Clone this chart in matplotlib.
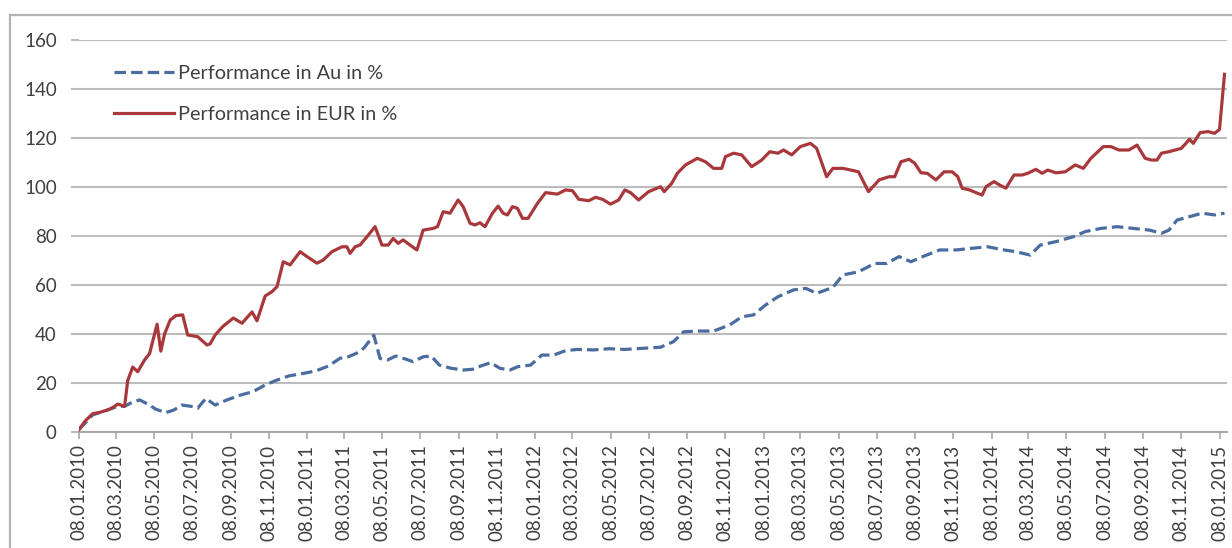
import pandas as pd
import matplotlib
matplotlib.use('Agg')
import matplotlib.pyplot as plt
import matplotlib.dates as mdates
from matplotlib.patches import Rectangle

# Kursentwicklung (Werte in %)
eur_dates = [
    '2010-01-08', '2010-01-18', '2010-01-30', '2010-02-10', '2010-02-23', '2010-03-03',
    '2010-03-11', '2010-03-22', '2010-03-27', '2010-04-04', '2010-04-12', '2010-04-23',
    '2010-05-01', '2010-05-13', '2010-05-19', '2010-05-25', '2010-06-03', '2010-06-12',
    '2010-06-23', '2010-07-01', '2010-07-17', '2010-08-01', '2010-08-06', '2010-08-14',
    '2010-08-26', '2010-09-12', '2010-09-26', '2010-10-12', '2010-10-20', '2010-11-02',
    '2010-11-13', '2010-11-21', '2010-12-01', '2010-12-12', '2010-12-28', '2011-01-08',
    '2011-01-24', '2011-02-03', '2011-02-17', '2011-03-05', '2011-03-13', '2011-03-18',
    '2011-03-26', '2011-04-03', '2011-04-14', '2011-04-27', '2011-05-08', '2011-05-18',
    '2011-05-26', '2011-06-03', '2011-06-11', '2011-06-22', '2011-07-03', '2011-07-13',
    '2011-07-29', '2011-08-05', '2011-08-14', '2011-08-25', '2011-09-07', '2011-09-15',
    '2011-09-26', '2011-10-04', '2011-10-12', '2011-10-20', '2011-11-01', '2011-11-10',
    '2011-11-18', '2011-11-25', '2011-12-03', '2011-12-11', '2011-12-19', '2011-12-28',
    '2012-01-12', '2012-01-25', '2012-02-13', '2012-02-26', '2012-03-08', '2012-03-18',
    '2012-04-03', '2012-04-14', '2012-04-25', '2012-05-08', '2012-05-21', '2012-05-31',
    '2012-06-09', '2012-06-22', '2012-07-08', '2012-07-27', '2012-08-02', '2012-08-14',
    '2012-08-23', '2012-09-05', '2012-09-24', '2012-10-07', '2012-10-20', '2012-11-02',
    '2012-11-08', '2012-11-21', '2012-12-04', '2012-12-20', '2013-01-05', '2013-01-18',
    '2013-01-31', '2013-02-09', '2013-02-22', '2013-03-08', '2013-03-24', '2013-04-03',
    '2013-04-19', '2013-04-29', '2013-05-15', '2013-05-28', '2013-06-09', '2013-06-25',
    '2013-07-12', '2013-07-28', '2013-08-06', '2013-08-16', '2013-08-29', '2013-09-07',
    '2013-09-17', '2013-09-27', '2013-10-11', '2013-10-24', '2013-11-06', '2013-11-15',
    '2013-11-22', '2013-12-04', '2013-12-14', '2013-12-24', '2013-12-30', '2014-01-12',
    '2014-01-21', '2014-01-31', '2014-02-13', '2014-02-26', '2014-03-07', '2014-03-20',
    '2014-03-30', '2014-04-08', '2014-04-21', '2014-05-06', '2014-05-22', '2014-06-04',
    '2014-06-16', '2014-07-06', '2014-07-18', '2014-07-31', '2014-08-16', '2014-08-29',
    '2014-09-11', '2014-09-21', '2014-09-30', '2014-10-07', '2014-10-19', '2014-11-08',
    '2014-11-21', '2014-11-27', '2014-12-08', '2014-12-21', '2014-12-31', '2015-01-08',
    '2015-01-16',
]
eur_values = [
    1.0, 4.5, 7.5, 8.0, 9.0, 10.0,
    11.4, 10.5, 21.0, 26.5, 24.6, 29.4,
    32.0, 44.0, 33.0, 40.0, 45.7, 47.5,
    47.8, 39.6, 38.9, 35.5, 36.0, 39.6,
    43.0, 46.5, 44.4, 49.0, 45.4, 55.5,
    57.3, 59.3, 69.5, 68.2, 73.6, 71.6,
    68.9, 70.2, 73.6, 75.6, 75.6, 72.9,
    75.6, 76.3, 79.7, 83.8, 76.3, 76.3,
    79.0, 77.0, 78.4, 76.3, 74.3, 82.4,
    83.1, 83.8, 89.9, 89.3, 94.7, 92.0,
    85.2, 84.5, 85.4, 83.8, 89.3, 92.2,
    89.3, 88.6, 92.0, 91.3, 87.2, 87.2,
    93.3, 97.7, 97.1, 98.8, 98.5, 95.0,
    94.4, 95.8, 95.0, 93.0, 94.7, 98.8,
    97.7, 94.7, 98.1, 100.1, 98.1, 101.5,
    105.6, 109.0, 111.7, 110.3, 107.6, 107.6,
    112.4, 113.8, 113.1, 108.3, 111.0, 114.4,
    113.8, 115.1, 113.1, 116.5, 117.8, 115.8,
    104.2, 107.6, 107.6, 106.9, 106.2, 98.1,
    102.9, 104.2, 104.2, 110.3, 111.3, 109.7,
    105.8, 105.6, 102.9, 106.2, 106.2, 104.2,
    99.5, 98.8, 97.7, 96.7, 100.1, 102.2,
    100.8, 99.5, 104.9, 104.9, 105.6, 107.2,
    105.6, 106.9, 105.8, 106.2, 109.0, 107.6,
    111.7, 116.5, 116.5, 115.1, 115.1, 117.1,
    111.7, 111.0, 111.0, 113.8, 114.4, 115.8,
    119.5, 117.8, 122.2, 122.6, 121.9, 123.5,
    146.0,
]

au_dates = [
    '2010-01-08', '2010-01-30', '2010-02-23', '2010-03-11', '2010-03-22', '2010-03-31',
    '2010-04-15', '2010-04-28', '2010-05-11', '2010-05-27', '2010-06-09', '2010-06-22',
    '2010-07-11', '2010-07-17', '2010-07-30', '2010-08-14', '2010-09-02', '2010-09-24',
    '2010-10-14', '2010-11-02', '2010-11-21', '2010-12-10', '2011-01-04', '2011-01-23',
    '2011-02-11', '2011-03-02', '2011-03-15', '2011-03-28', '2011-04-09', '2011-04-25',
    '2011-05-05', '2011-05-17', '2011-05-30', '2011-06-11', '2011-06-27', '2011-07-13',
    '2011-07-26', '2011-08-08', '2011-08-27', '2011-09-15', '2011-09-30', '2011-10-13',
    '2011-10-29', '2011-11-13', '2011-11-29', '2011-12-12', '2012-01-01', '2012-01-19',
    '2012-02-07', '2012-02-26', '2012-03-16', '2012-04-11', '2012-05-06', '2012-05-31',
    '2012-06-25', '2012-07-27', '2012-08-17', '2012-09-02', '2012-09-24', '2012-10-20',
    '2012-11-15', '2012-12-04', '2012-12-23', '2013-01-11', '2013-01-31', '2013-02-25',
    '2013-03-17', '2013-04-03', '2013-04-29', '2013-05-15', '2013-06-09', '2013-07-05',
    '2013-07-24', '2013-08-13', '2013-09-01', '2013-09-20', '2013-10-17', '2013-11-12',
    '2013-12-08', '2014-01-02', '2014-01-28', '2014-02-16', '2014-03-11', '2014-03-27',
    '2014-04-21', '2014-05-19', '2014-06-07', '2014-07-02', '2014-07-28', '2014-08-23',
    '2014-09-18', '2014-10-07', '2014-10-19', '2014-11-01', '2014-11-21', '2014-12-11',
    '2014-12-31', '2015-01-16',
]
au_values = [
    1.0, 7.0, 9.0, 10.5, 10.5, 11.7,
    13.1, 11.4, 9.3, 7.9, 9.0, 11.0,
    10.3, 9.7, 13.7, 11.0, 13.1, 15.1,
    16.5, 19.2, 21.2, 22.9, 24.0, 25.0,
    26.9, 30.1, 30.7, 32.1, 34.2, 39.5,
    30.0, 29.4, 31.0, 30.1, 28.7, 30.7,
    31.0, 27.3, 26.0, 25.3, 25.6, 26.9,
    28.3, 26.0, 25.3, 26.7, 27.3, 31.4,
    31.4, 33.2, 33.7, 33.5, 34.0, 33.7,
    34.1, 34.6, 36.9, 40.9, 41.2, 41.2,
    43.7, 47.0, 47.8, 51.8, 55.2, 58.0,
    58.6, 56.6, 59.0, 64.1, 65.4, 68.8,
    68.8, 71.6, 69.5, 71.6, 74.3, 74.3,
    75.0, 75.6, 74.3, 73.6, 72.2, 76.3,
    77.7, 79.7, 81.8, 83.1, 83.8, 83.1,
    82.4, 81.1, 82.4, 86.5, 87.9, 89.3,
    88.6, 89.3,
]

series_labels = ['Performance in Au in %', 'Performance in EUR in %']
tick_start = '2010-01-08'
tick_end = '2015-01-08'
y_ticks = list(range(0, 161, 20))

FONT = ['Lato', 'DejaVu Sans']
TEXT_COLOR = '#404040'
GRID_COLOR = '#bcbcbc'


def main():
    plt.rcParams['font.family'] = FONT

    eur_x = pd.to_datetime(eur_dates)
    au_x = pd.to_datetime(au_dates)
    tick_dates = pd.date_range(tick_start, tick_end, freq=pd.DateOffset(months=2))

    fig = plt.figure(figsize=(12.32, 5.48), dpi=100)
    ax = fig.add_axes([79 / 1232, 1 - 432 / 548, (1227 - 79) / 1232, 392 / 548])

    # Rahmen des Diagrammbereichs (unten und rechts abgeschnitten)
    fig.patches.append(Rectangle((10 / 1232, -0.1), 1.2, 1.1 - 15 / 548,
                                 transform=fig.transFigure, fill=False,
                                 edgecolor='#b4b4b4', linewidth=1.6))

    au_line, = ax.plot(au_x, au_values, color='#4a6c9f', linewidth=2.3,
                       label=series_labels[0], zorder=3)
    au_line.set_dashes((3.6, 1.6))
    ax.plot(eur_x, eur_values, color='#a8383b', linewidth=2.3,
            label=series_labels[1], zorder=4)

    ax.set_ylim(0, 160)
    ax.set_yticks(y_ticks)
    ax.set_xlim(pd.Timestamp('2010-01-08'), pd.Timestamp('2015-01-20'))
    ax.set_xticks(tick_dates)
    ax.xaxis.set_major_formatter(mdates.DateFormatter('%d.%m.%Y'))

    ax.grid(axis='y', color=GRID_COLOR, linewidth=1.5)
    ax.set_axisbelow(True)
    for side in ['top', 'right', 'left']:
        ax.spines[side].set_visible(False)
    ax.spines['bottom'].set_color('#a8a8a8')
    ax.spines['bottom'].set_linewidth(1.5)

    ax.tick_params(axis='y', length=6, width=1.5, color=GRID_COLOR, pad=10,
                   labelsize=13.5, labelcolor=TEXT_COLOR)
    ax.tick_params(axis='x', length=5, width=1.2, color='#a8a8a8', pad=4,
                   labelsize=13.5, labelcolor=TEXT_COLOR, labelrotation=90)

    leg = ax.legend(loc='upper left', bbox_to_anchor=(0.0235, 0.956), frameon=False,
                    fontsize=14.3, handlelength=3.0, handletextpad=0.25,
                    labelspacing=1.2, borderaxespad=0)
    for txt in leg.get_texts():
        txt.set_color(TEXT_COLOR)

    fig.savefig('out.png', dpi=100)
    plt.close(fig)


if __name__ == "__main__":
    main()
